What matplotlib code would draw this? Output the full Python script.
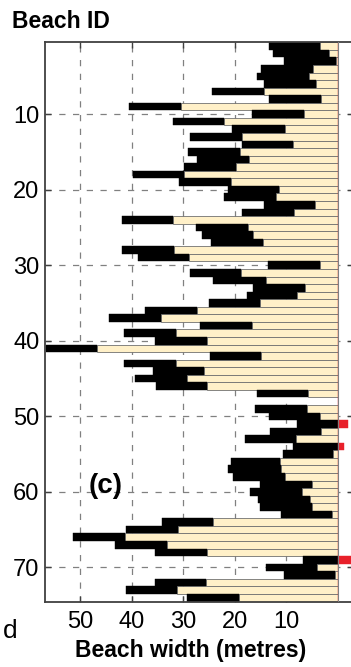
import numpy as np
import matplotlib
matplotlib.use("Agg")
import matplotlib.pyplot as plt

plt.rcParams['font.family'] = ['Liberation Sans', 'DejaVu Sans']

beach_id = np.arange(1, 75)
# beach width (m); negative values drawn in red
width = [3.4, 1.7, 0.4, 4.7, 5.5, 4.2, 14.3, 3.2, 30.5, 6.6,
         22.0, 10.2, 18.6, 8.6, 19.0, 17.2, 19.7, 29.9, 20.7, 11.3,
         12.0, 4.3, 8.4, 32.1, 17.5, 16.4, 14.5, 31.9, 28.9, 3.5,
         18.8, 14.0, 6.3, 7.8, 15.1, 27.4, 34.4, 16.6, 31.5, 25.4,
         46.7, 14.8, 31.5, 25.9, 29.2, 25.3, 5.8, np.nan, 6.0, 3.4,
         -2.1, 3.2, 8.0, -1.2, 0.8, 11.2, 11.0, 10.2, 5.0, 7.0,
         5.4, 5.0, 1.0, 24.2, 31.1, 41.3, 33.2, 25.4, -2.8, 4.0,
         0.5, 25.5, 31.2, 19.1]
# outer end of the black range (m)
upper = [13.3, 12.5, 10.4, 14.8, 15.6, 14.3, 24.5, 13.3, 40.5, 16.6,
         32.1, 20.5, 28.7, 18.6, 29.0, 27.4, 29.9, 39.8, 30.8, 21.4,
         22.0, 14.4, 18.5, 42.0, 27.6, 26.3, 24.6, 42.0, 38.9, 13.6,
         28.7, 24.2, 16.4, 17.7, 25.1, 37.5, 44.4, 26.7, 41.5, 35.5,
         56.7, 24.8, 41.5, 35.8, 39.3, 35.3, 15.7, np.nan, 16.0, 13.4,
         7.9, 13.1, 18.0, 8.6, 10.7, 20.8, 21.3, 20.4, 15.0, 17.0,
         15.4, 15.0, 11.0, 34.2, 41.2, 51.4, 43.3, 35.5, 6.8, 14.0,
         10.5, 35.6, 41.2, 29.2]

xticks = [10, 20, 30, 40, 50]
yticks = [10, 20, 30, 40, 50, 60, 70]

w = np.array(width, dtype=float)
u = np.array(upper, dtype=float)
pos = np.where(w > 0, w, 0.0)
neg = np.where(w < 0, w, 0.0)

fig = plt.figure(figsize=(3.51, 6.67), dpi=100)
ax = fig.add_axes([45/351, 1 - 601.5/667, (353-45)/351, (601.5-42.3)/667])

beige = '#FFF0C8'
ax.barh(beach_id, pos, height=1.0, color=beige, edgecolor='#707070', linewidth=0.6, zorder=2)
ax.barh(beach_id, u - pos, left=pos, height=1.0, color='black', edgecolor='black', linewidth=0.3, zorder=2)
ax.barh(beach_id, neg, height=1.0, color='#E8202A', edgecolor='#E8202A', linewidth=0.3, zorder=2, clip_on=False)
ax.axvline(0, color='#808080', lw=0.8, zorder=3)

ax.set_xlim(56.9, -3.0)
ax.set_ylim(74.5, 0.5)
ax.set_xticks(xticks)
ax.set_yticks(yticks)
ax.tick_params(direction='in', top=True, right=True, length=4, width=1, colors='#404040',
               labelsize=17, labelcolor='black')
ax.tick_params(axis='x', pad=7)
ax.tick_params(axis='y', pad=4)
ax.grid(True, linestyle=(0, (5, 6)), color='#808080', linewidth=0.9, zorder=0)
ax.set_axisbelow(True)
for s in ax.spines.values():
    s.set_color('#404040')
    s.set_linewidth(1.3)

fig.text(191/351, 1 - 651/667, 'Beach width (metres)', fontsize=16.5, fontweight='bold',
         va='center', ha='center')
fig.text(12/351, 1 - 22/667, 'Beach ID', fontsize=16.5, fontweight='bold', va='center', ha='left')
fig.text(89/351, 1 - 486/667, '(c)', fontsize=20, fontweight='bold', va='center', ha='left')
fig.text(3/351, 1 - 631/667, 'd', fontsize=19, va='center', ha='left')

fig.savefig('out.png', dpi=100)
